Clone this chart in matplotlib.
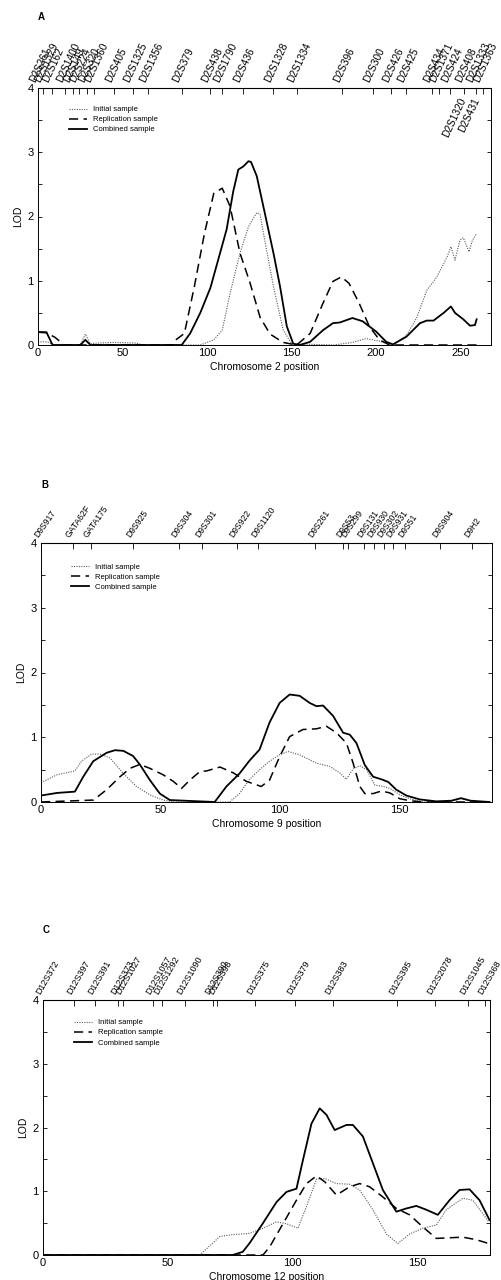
import numpy as np
import matplotlib
matplotlib.use("Agg")
import matplotlib.pyplot as plt

plt.rcParams['font.family'] = ['Liberation Sans', 'DejaVu Sans']

W, H = 501, 1280

# chromosome 2
a_init_x = [0, 5, 10, 25, 28, 31, 35, 45, 58, 62, 90, 96, 104, 109, 113.6, 119.5, 124.5, 129.4, 131.4, 134,
            139.3, 145, 150, 175, 186, 194, 202, 210, 218, 224, 230, 236, 242, 244.3, 246.7, 249.6, 251.6,
            255, 257, 258.5, 259.5]
a_init_y = [0.05, 0.05, 0, 0, 0.17, 0.02, 0.03, 0.04, 0.03, 0, 0, 0, 0.08, 0.23, 0.8, 1.43, 1.84, 2.06, 2.03,
            1.65, 0.91, 0.24, 0.02, 0, 0.04, 0.1, 0.06, 0, 0.15, 0.42, 0.85, 1.06, 1.37, 1.53, 1.32, 1.63,
            1.67, 1.45, 1.63, 1.69, 1.74]
a_rep_x = [0, 5, 10, 15.5, 80, 81, 86.6, 92.5, 98.5, 104, 109, 113.6, 119.5, 125.4, 131.4, 137.3, 145, 153,
           161, 168.6, 174.5, 179.5, 184, 190, 196, 202, 208, 261]
a_rep_y = [0.2, 0.19, 0.12, 0, 0, 0.07, 0.18, 0.91, 1.74, 2.36, 2.44, 2.16, 1.43, 0.97, 0.43, 0.17, 0.04, 0,
           0.18, 0.65, 0.99, 1.06, 0.96, 0.65, 0.29, 0.08, 0, 0]
a_comb_x = [0, 5, 8.6, 25, 28, 31, 85, 90, 96, 102, 107.7, 111.6, 115.5, 118.5, 121.5, 124.5, 126, 129.4,
            133.3, 139.3, 143.2, 147.2, 151, 155, 161, 168.6, 174.5, 178.5, 186, 192, 200, 206, 210, 218,
            226, 230, 234, 240, 244.3, 246.7, 251.6, 255.6, 258.5, 259.5]
a_comb_y = [0.2, 0.2, 0, 0, 0.08, 0, 0, 0.18, 0.5, 0.89, 1.43, 1.8, 2.39, 2.73, 2.78, 2.86, 2.85, 2.63,
            2.16, 1.43, 0.91, 0.29, 0.02, 0, 0.05, 0.23, 0.34, 0.35, 0.42, 0.37, 0.21, 0.05, 0.01, 0.13,
            0.34, 0.38, 0.38, 0.5, 0.6, 0.5, 0.4, 0.3, 0.31, 0.4]
a_markers = ["D2S261", "D2S1329", "D2S162", "D2S1400", "D2S149", "D2S224", "D2S320", "D2S1360",
             "D2S405", "D2S1325", "D2S1356", "D2S379", "D2S438", "D2S1790", "D2S436", "D2S1328",
             "D2S1334", "D2S396", "D2S300", "D2S426", "D2S425", "D2S434", "D2S1371", "D2S424",
             "D2S408", "D2S1333", "D2S1363"]
a_marker_pos = [0, 3, 8, 16, 20.5, 24, 29, 33, 45, 56, 65, 85, 102, 109, 121, 139, 153, 180, 198, 209,
                218, 233, 237, 244, 252, 259, 263]
a_low_markers = ["D2S1320", "D2S431"]
a_low_pos = [249, 257]

# chromosome 9
b_init_x = [0, 6.7, 14.2, 17, 21.2, 24.7, 28.9, 34.5, 40, 45.6, 51.2, 56, 79, 83.2, 87.4, 91.6, 95.8, 100,
            103.5, 108.4, 115.4, 121, 125.2, 128, 130.8, 133.6, 136.4, 139.9, 143.4, 146.2, 150.4, 154.6,
            160, 172, 176, 180, 188]
b_init_y = [0.3, 0.42, 0.48, 0.63, 0.74, 0.74, 0.68, 0.44, 0.24, 0.11, 0.03, 0, 0, 0.13, 0.35, 0.5, 0.63,
            0.73, 0.78, 0.73, 0.6, 0.55, 0.45, 0.35, 0.51, 0.56, 0.5, 0.26, 0.24, 0.21, 0.11, 0.05, 0, 0.01,
            0.05, 0.01, 0]
b_rep_x = [0, 22, 27.5, 33.1, 37.3, 41.4, 45.6, 51.2, 55.4, 58.9, 62.4, 66.6, 69.4, 75, 80.6, 86, 92.3,
           95.8, 100, 104.2, 109.8, 115.4, 119.6, 123.8, 128, 130.8, 133.6, 135.7, 139.2, 142.7, 146.2,
           150.4, 154.6, 160, 188]
b_rep_y = [0, 0.03, 0.19, 0.39, 0.52, 0.58, 0.52, 0.42, 0.32, 0.21, 0.34, 0.47, 0.48, 0.54, 0.45, 0.32,
           0.24, 0.34, 0.7, 1.01, 1.12, 1.13, 1.17, 1.07, 0.91, 0.6, 0.24, 0.13, 0.13, 0.17, 0.14, 0.05,
           0.02, 0, 0]
b_comb_x = [0, 6.7, 14.2, 17.7, 21.9, 27.5, 31, 34.5, 38.6, 41.4, 45.6, 49.8, 54, 72.8, 77.7, 83.2, 87.4,
            91.6, 95.8, 100, 104.2, 108.4, 112.6, 115.4, 118.2, 122.4, 126.6, 129.4, 132.2, 135.7, 139.2,
            142.7, 145.5, 148.9, 153.1, 158.7, 165.7, 172, 176, 180, 188]
b_comb_y = [0.1, 0.14, 0.16, 0.39, 0.63, 0.76, 0.8, 0.79, 0.71, 0.58, 0.34, 0.13, 0.03, 0, 0.24, 0.44,
            0.64, 0.81, 1.23, 1.53, 1.66, 1.64, 1.53, 1.48, 1.49, 1.33, 1.07, 1.04, 0.91, 0.57, 0.39,
            0.35, 0.31, 0.19, 0.1, 0.04, 0.01, 0.02, 0.06, 0.02, 0]
b_markers = ["D9S917", "GATA62F", "GATA175", "D9S925", "D9S304", "D9S301", "D9S922", "D9S1120",
             "D9S261", "D9S53", "D9S299", "D9S131", "D9S930", "D9S302", "D9S931", "D9S51", "D9S904",
             "D9H2"]
b_marker_pos = [0, 13.4, 21, 38.5, 57.7, 67.4, 82, 91, 115, 126.5, 128.6, 135.3, 139.5, 143.7, 147.7,
                152.6, 167, 180.5]

# chromosome 12
c_init_x = [0, 62.8, 70.8, 76.1, 82.8, 88.1, 93.5, 97.5, 102.1, 105.5, 109.5, 112.8, 117.5, 122.8, 126.8,
            132.1, 137.5, 142.1, 146.8, 152.1, 157.5, 161.5, 168.1, 172.1, 176.1, 178.5]
c_init_y = [0, 0, 0.29, 0.32, 0.34, 0.42, 0.52, 0.49, 0.42, 0.76, 1.19, 1.2, 1.12, 1.11, 1.02, 0.71, 0.33,
            0.18, 0.33, 0.42, 0.47, 0.71, 0.89, 0.86, 0.65, 0.52]
c_rep_x = [0, 88.1, 90.8, 96.1, 101.5, 105.5, 109.5, 112.8, 117.5, 122.8, 126.8, 130.8, 136.1, 141.5,
           146.8, 152.1, 157.5, 162.8, 168.1, 173.5, 178.5]
c_rep_y = [0, 0, 0.13, 0.49, 0.86, 1.12, 1.24, 1.15, 0.94, 1.07, 1.12, 1.07, 0.91, 0.73, 0.63, 0.44, 0.26,
           0.27, 0.28, 0.24, 0.18]
c_comb_x = [0, 76, 80, 82.8, 88.1, 93.5, 97.5, 101.5, 104.1, 107.5, 110.8, 113.5, 116.8, 121.5, 124.1,
            128.1, 132.1, 136.1, 141.5, 145.5, 149.5, 153.5, 158.1, 162.8, 166.8, 170.8, 174.8, 178.8]
c_comb_y = [0, 0, 0.05, 0.19, 0.5, 0.83, 0.99, 1.04, 1.49, 2.06, 2.3, 2.2, 1.96, 2.04, 2.04, 1.86, 1.44,
            1.02, 0.68, 0.73, 0.77, 0.71, 0.63, 0.86, 1.02, 1.03, 0.86, 0.55]
c_markers = ["D12S372", "D12S397", "D12S391", "D12S373", "D12S1027", "D12S1057", "D12S1292",
             "D12S1090", "D12S390", "D12S398", "D12S375", "D12S379", "D12S383", "D12S395", "D12S2078",
             "D12S1045", "D12S368"]
c_marker_pos = [0, 12.4, 20.8, 30, 32, 44, 47.5, 56.8, 68, 69.6, 84.8, 100.8, 116, 141.6, 156.8, 170, 177]

series_names = ["Initial sample", "Replication sample", "Combined sample"]


def panel(fig, box, letter, letter_y, chrom, xmax, xticks, curves, markers, mpos, msize, mrot, leg_anchor):
    left, top, right, bottom = box
    ax = fig.add_axes([left / W, 1 - bottom / H, (right - left) / W, (bottom - top) / H])
    xi, yi, xr, yr, xc, yc = curves
    ax.plot(xi, yi, color='0.35', lw=0.8, ls=(0, (1, 1.2)), label=series_names[0])
    ax.plot(xr, yr, color='black', lw=1.1, ls=(0, (6, 3.5)), label=series_names[1])
    ax.plot(xc, yc, color='black', lw=1.3, label=series_names[2])
    ax.set_xlim(0, xmax)
    ax.set_ylim(0, 4)
    ax.set_xticks(xticks)
    ax.set_yticks([0, 1, 2, 3, 4])
    ax.set_yticks(np.arange(0.5, 4, 1), minor=True)
    ax.tick_params(which='both', direction='in', length=3, width=0.6, labelsize=8,
                   right=True, pad=3)
    ax.tick_params(axis='x', bottom=False, pad=2)
    for s in ax.spines.values():
        s.set_linewidth(0.7)
    ax.set_xlabel("Chromosome %d position" % chrom, fontsize=7.5, labelpad=3)
    ax.set_ylabel("LOD", fontsize=7.5, labelpad=3)

    # marker ticks along the top
    top_ax = ax.secondary_xaxis('top')
    top_ax.set_xticks(mpos)
    top_ax.set_xticklabels([])
    top_ax.tick_params(direction='in', length=4, width=0.6)
    for name, p in zip(markers, mpos):
        ax.annotate(name, xy=(p, 1), xycoords=('data', 'axes fraction'), xytext=(-1, 3),
                    textcoords='offset points', rotation=mrot, ha='left', va='bottom',
                    rotation_mode='anchor', fontsize=msize, annotation_clip=False)

    ax.legend(loc='upper left', bbox_to_anchor=leg_anchor, frameon=False, fontsize=5.5,
              borderpad=0, handlelength=2.4, handletextpad=0.8, labelspacing=0.35)
    fig.text(left / W, 1 - letter_y / H, letter, fontsize=7, fontweight='bold', va='center')
    return ax


fig = plt.figure(figsize=(W / 100, H / 100), dpi=100)

ax_a = panel(fig, (38, 88, 491, 345), "A", 17, 2, 268, [0, 50, 100, 150, 200, 250],
             (a_init_x, a_init_y, a_rep_x, a_rep_y, a_comb_x, a_comb_y),
             a_markers, a_marker_pos, 7.3, 65, (0.06, 0.945))
for name, p in zip(a_low_markers, a_low_pos):
    ax_a.annotate(name, xy=(p, 1), xycoords=('data', 'axes fraction'), xytext=(0, -6),
                  textcoords='offset points', rotation=65, ha='right', va='top',
                  rotation_mode='anchor', fontsize=7.3, annotation_clip=False)

panel(fig, (41, 543, 492, 802), "B", 485, 9, 189, [0, 50, 100, 150],
      (b_init_x, b_init_y, b_rep_x, b_rep_y, b_comb_x, b_comb_y),
      b_markers, b_marker_pos, 6.2, 55, (0.058, 0.935))

panel(fig, (43, 1000, 490, 1255), "C", 930, 12, 179, [0, 50, 100, 150],
      (c_init_x, c_init_y, c_rep_x, c_rep_y, c_comb_x, c_comb_y),
      c_markers, c_marker_pos, 6.5, 60, (0.06, 0.94))

fig.savefig("out.png", dpi=100)
